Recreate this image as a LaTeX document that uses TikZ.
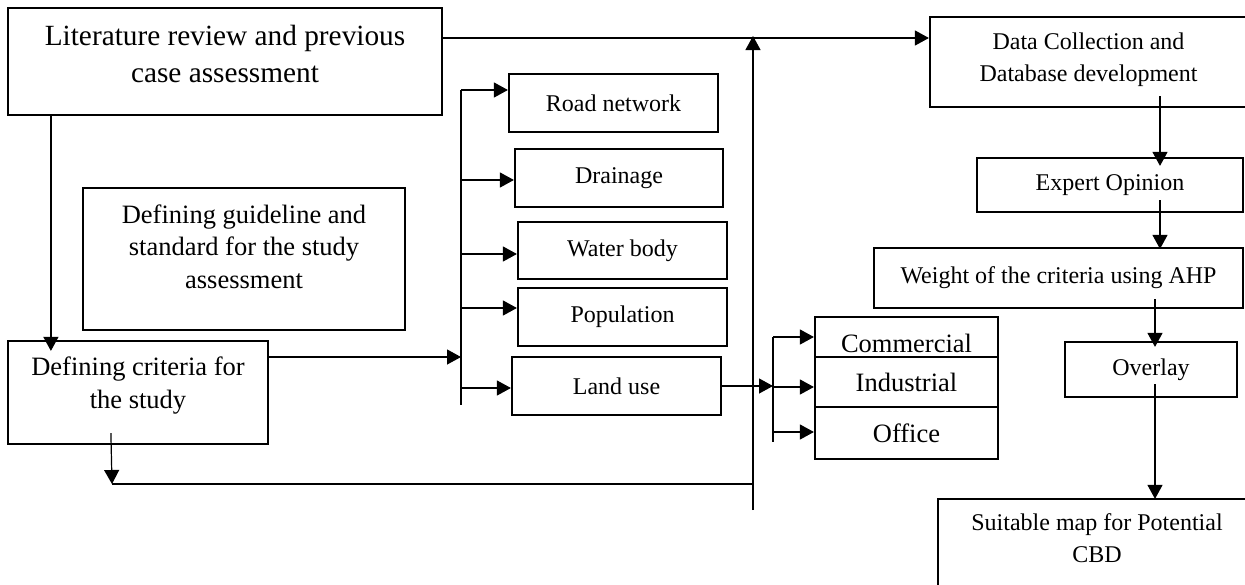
\documentclass[tikz,border=0pt]{standalone}
\usepackage{fontspec}
\setmainfont{Liberation Serif}
\usetikzlibrary{arrows.meta, calc}

\tikzset{
  box/.style={draw, line width=2.2pt, align=center, inner sep=2pt},
  smallbox/.style={box, font=\fontsize{24}{32}\selectfont},
  midbox/.style={box, font=\fontsize{26.5}{32.5}\selectfont},
  bigbox/.style={box, font=\fontsize{29.3}{37}\selectfont},
  link/.style={line width=1.2pt},
  arr/.style={link, -{Triangle[length=14pt,width=15pt]}}
}

\begin{document}
\begin{tikzpicture}[x=1pt,y=-1pt]
    \useasboundingbox (0,0) rectangle (1245,584);
    \clip (0,0) rectangle (1245,584);
    % Left column
    \node[bigbox,minimum width=434pt,minimum height=107pt,text depth=16pt]
         (lit)at(225,61.5){Literature review and previous\\case assessment};
    \node[midbox,minimum width=322pt,minimum height=142pt,text depth=25pt]
         (guide)at(244,259){Defining guideline and\\standard for the study\\assessment};
    \node[midbox,minimum width=260pt,minimum height=103pt,text depth=19.5pt]
         (crit)at(138,392.5){Defining criteria for\\the study};
    % Criteria
    \node[smallbox,minimum width=209pt,minimum height=58pt](road)at(613.5,103){Road network};
    \node[smallbox,minimum width=208pt,minimum height=58pt](drain)at(619,178){Drainage};
    \node[smallbox,minimum width=209pt,minimum height=57pt](water)at(622.5,250.5){Water body};
    \node[smallbox,minimum width=209pt,minimum height=58pt](pop)at(622.5,317){Population};
    \node[smallbox,minimum width=209pt,minimum height=58pt](land)at(616.5,386){Land use};
    % Land use classes
    \node[midbox,minimum width=183pt,minimum height=40pt,text height=30pt,text depth=0pt]
         (comm)at(906.5,337){Commercial};
    \node[midbox,minimum width=183pt,minimum height=50pt](ind)at(906.5,382){Industrial};
    \node[midbox,minimum width=183pt,minimum height=52pt](office)at(906.5,433){Office};
    % Right column
    \node[smallbox,minimum width=317pt,minimum height=90pt,text depth=10.4pt]
         (data)at(1088.5,62){Data Collection and\\Database development};
    \node[smallbox,minimum width=266pt,minimum height=54pt](expert)at(1110,185){Expert Opinion};
    \node[smallbox,minimum width=369pt,minimum height=60pt](weight)at(1058.5,278)
         {Weight of the criteria using AHP};
    \node[smallbox,minimum width=172pt,minimum height=55pt](overlay)at(1151,369.5){Overlay};
    \node[smallbox,minimum width=318pt,minimum height=90pt,text depth=12.4pt]
         (suit)at(1097,544){Suitable map for Potential\\CBD};
    % Bracket and return line points
    \coordinate (b1top) at (461,90);
    \coordinate (b1bot) at (461,405);
    \coordinate (b2top) at (773,337);
    \coordinate (b2bot) at (773,442);
    \coordinate (vbot) at (753,510);
    \coordinate (vtop) at (753,36);
    \coordinate (hleft) at (112,484);
    \coordinate (critout) at ($(crit.east)+(0,-35.5)$);
    % Top flow
    \draw[arr] ($(lit.east)+(0,-23.5)$) -- ($(data.west)+(0,-24)$);
    \draw[arr] (vbot) -- (vtop);
    \draw[arr] ($(lit.south west)+(44,-2)$) -- ($(crit.north west)+(44,11)$);
    % Criteria branches
    \draw[link] (b1top) -- (b1bot);
    \draw[arr] (critout) -- (critout -| b1top);
    \foreach \n/\dy in {road/-13,drain/2,water/3.5,pop/-9,land/2}{
      \coordinate (tip) at ($(\n.west)+(0,\dy)$);
      \draw[arr] (tip -| b1top) -- (tip);
    }
    % Land use branches
    \draw[link] (b2top) -- (b2bot);
    \draw[arr] (land.east) -- (land.east -| b2top);
    \foreach \n/\dy in {comm/0,ind/5,office/-1}{
      \coordinate (tip) at ($(\n.west)+(0,\dy)$);
      \draw[arr] (tip -| b2top) -- (tip);
    }
    % Return line
    \draw[arr] ($(crit.south west)+(104,-12)$) -- (hleft);
    \draw[link] (hleft) -- (hleft -| vbot);
    % Right flow
    \draw[arr] ($(data.south)+(71.5,-12)$) -- ($(expert.north)+(50,9)$);
    \draw[arr] ($(expert.south)+(50,-13)$) -- ($(weight.north)+(101.5,2)$);
    \draw[arr] ($(weight.south)+(96.5,-10)$) -- ($(overlay.north)+(4,6)$);
    \draw[arr] ($(overlay.south)+(4,-14)$) -- ($(suit.north)+(58,1)$);
\end{tikzpicture}
\end{document}
